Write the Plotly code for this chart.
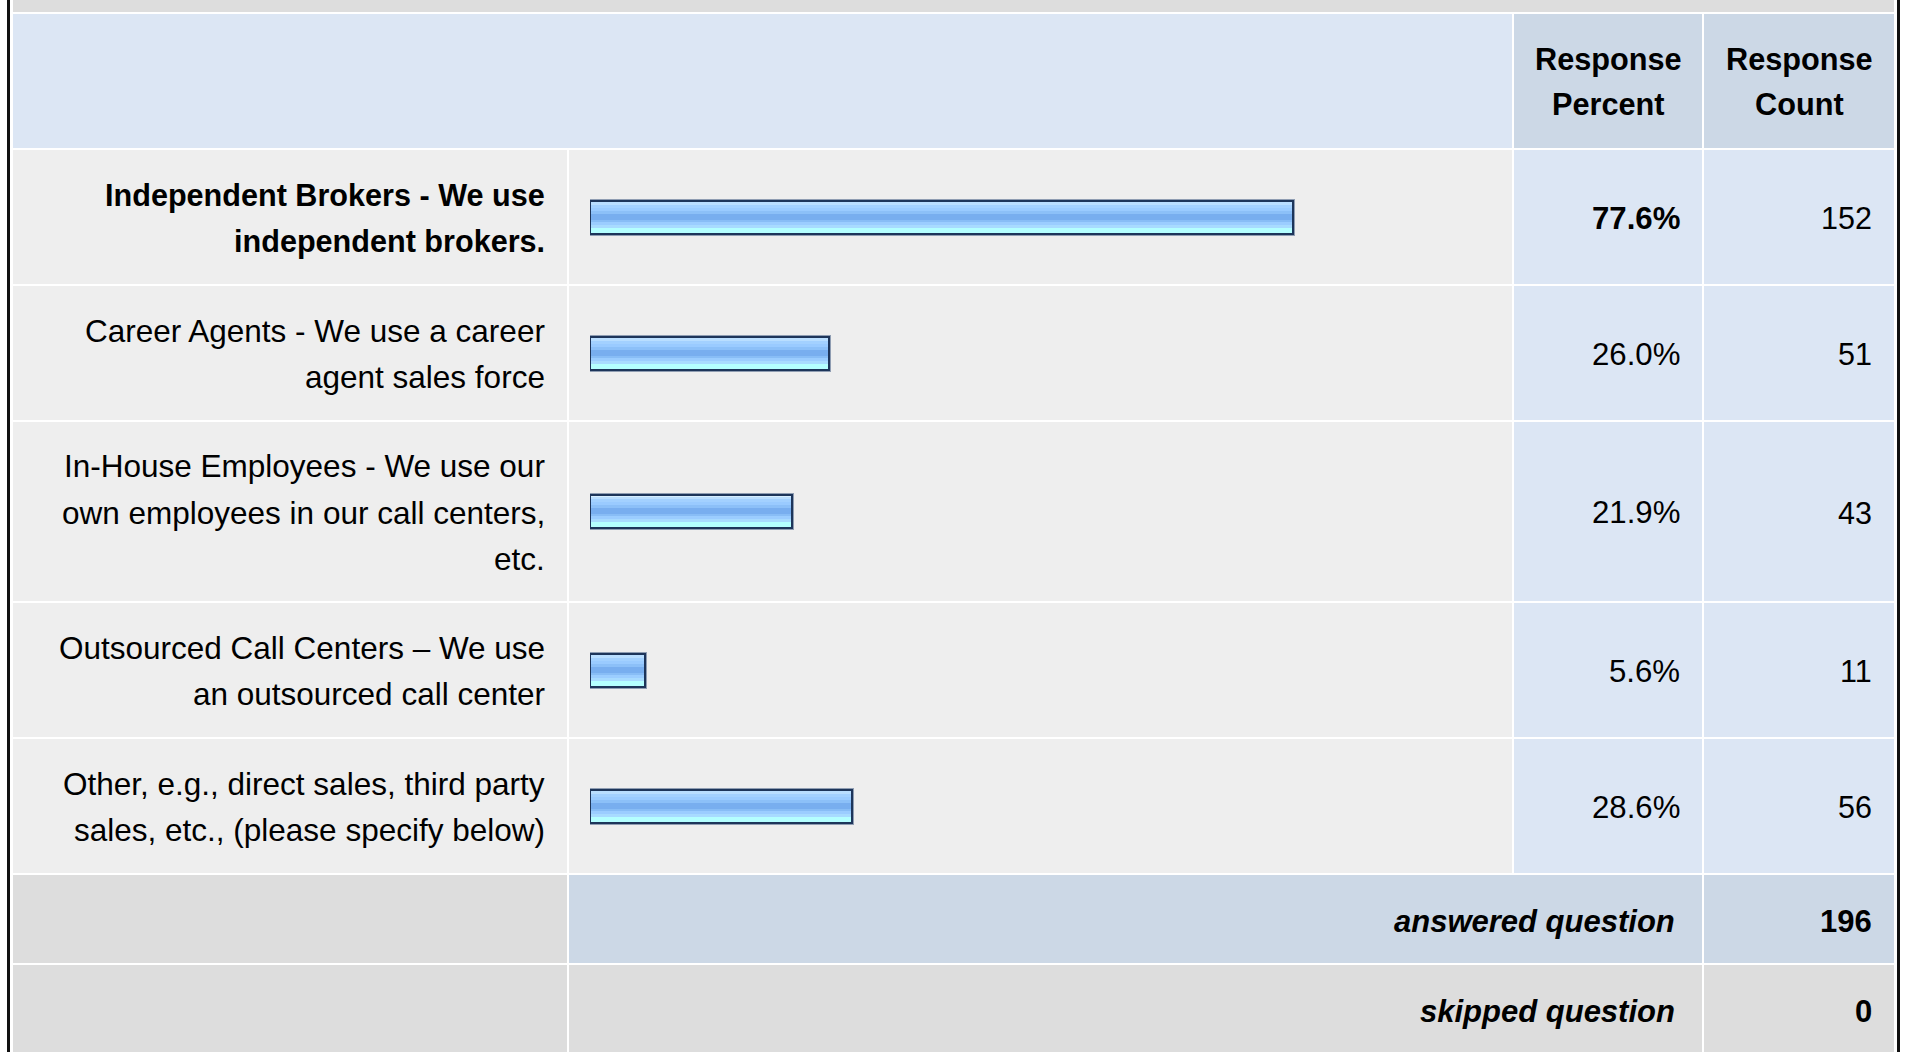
import plotly.graph_objects as go

W, H = 1907, 1052

# ---------------- data ----------------
categories = [
    "Independent Brokers - We use<br>independent brokers.",
    "Career Agents - We use a career<br>agent sales force",
    "In-House Employees - We use our<br>own employees in our call centers,<br>etc.",
    "Outsourced Call Centers – We use<br>an outsourced call center",
    "Other, e.g., direct sales, third party<br>sales, etc., (please specify below)",
]
response_percent = [77.6, 26.0, 21.9, 5.6, 28.6]
response_count = [152, 51, 43, 11, 56]
header_labels = ["Response<br>Percent", "Response<br>Count"]
summary_labels = ["answered question", "skipped question"]
summary_values = [196, 0]

# ---------------- style / layout ----------------
FONT = "Liberation Sans, Arial, Helvetica, sans-serif"
FS_LABEL = 31.5
FS_LABEL_BOLD = 30.6
FS_HEAD = 30.7
FS_PCT = 31.2
FS_CNT = 30.5
FS_SUM = 31
LINE = 46
HEAD_BG = "#DCE6F4"
HEAD_DARK = "#CCD8E6"
ROW_BG = "#EEEEEE"
ROW_VAL = "#DCE6F4"
GRAY = "#DDDDDD"

XL0, XL1 = 13, 567
XB0, XB1 = 569, 1512
XP0, XP1 = 1514, 1702
XC0, XC1 = 1704, 1894
GAP = 2

shapes, annotations = [], []


def rect(x0, x1, y0, y1, color):
    shapes.append(dict(type="rect", xref="paper", yref="paper",
                       x0=x0 / W, x1=x1 / W, y0=1 - y1 / H, y1=1 - y0 / H,
                       fillcolor=color, line_width=0, layer="below"))


def text(x, y, s, anchor, size, bold=False, italic=False):
    if bold:
        s = "<b>" + s + "</b>"
    if italic:
        s = "<i>" + s + "</i>"
    annotations.append(dict(xref="paper", yref="paper", x=x / W, y=1 - y / H,
                            text=s, showarrow=False, xanchor=anchor, yanchor="middle",
                            borderpad=0,
                            font=dict(family=FONT, size=size, color="#000000")))


def multiline(x, yc, s, anchor, size, bold=False):
    lines = s.split("<br>")
    n = len(lines)
    for i, ln in enumerate(lines):
        text(x, yc + (i - (n - 1) / 2) * LINE + 1, ln, anchor, size, bold=bold)


def row_h(n):
    return 44 + 45 * n


# top strip
rect(XL0, XC1, 0, 12, GRAY)

# header
y = 14
hh = row_h(2)
rect(XL0, XB1, y, y + hh, HEAD_BG)
rect(XP0, XP1, y, y + hh, HEAD_DARK)
rect(XC0, XC1, y, y + hh, HEAD_DARK)
hc = y + hh / 2
multiline((XP0 + XP1) / 2, hc, header_labels[0], "center", FS_HEAD, bold=True)
multiline((XC0 + XC1) / 2, hc, header_labels[1], "center", FS_HEAD, bold=True)
y += hh + GAP

# data rows
top_idx = max(range(len(response_percent)), key=lambda i: response_percent[i])
centers = []
for i, lab in enumerate(categories):
    n = len(lab.split("<br>"))
    h = row_h(n)
    rect(XL0, XL1, y, y + h, ROW_BG)
    rect(XB0, XB1, y, y + h, ROW_BG)
    rect(XP0, XP1, y, y + h, ROW_VAL)
    rect(XC0, XC1, y, y + h, ROW_VAL)
    c = y + h / 2
    centers.append(c)
    bold = i == top_idx
    multiline(XL1 - 21, c, lab, "right", FS_LABEL_BOLD if bold else FS_LABEL, bold=bold)
    text(XP1 - 21, c + 1, f"{response_percent[i]:.1f}%", "right", FS_PCT, bold=bold)
    text(XC1 - 21, c + 1, str(response_count[i]), "right", FS_CNT)
    y += h + GAP

# summary rows
for j, (lab, val) in enumerate(zip(summary_labels, summary_values)):
    h = row_h(1) - 1
    mid_col = HEAD_DARK if j == 0 else GRAY
    rect(XL0, XL1, y, y + h, GRAY)
    rect(XB0, XP1, y, y + h, mid_col)
    rect(XC0, XC1, y, y + h, mid_col)
    c = y + h / 2
    text(XP1 - 26, c + 2, lab, "right", FS_SUM, bold=True, italic=True)
    text(XC1 - 21, c + 2, str(val), "right", FS_SUM, bold=True)
    y += h + GAP

# outer borders
shapes.append(dict(type="rect", xref="paper", yref="paper", x0=7 / W, x1=10 / W,
                   y0=0, y1=1, fillcolor="#111111", line_width=0, layer="above"))
shapes.append(dict(type="rect", xref="paper", yref="paper", x0=1897 / W, x1=1900 / W,
                   y0=0, y1=1, fillcolor="#111111", line_width=0, layer="above"))

# ---------------- bars ----------------
BAR_T = 33
BASE = -0.5          # bar image starts slightly before the zero point
PX_PER_PCT = 9.0
X_START = 590
bar_len = [p - BASE for p in response_percent]   # bar spans BASE .. p
stripes = [
    (0.0, 1.5, "#D6EEFF"),
    (1.5, 2.5, "#B9DEFF"),
    (4.0, 3.0, "#A3D1FF"),
    (7.0, 3.0, "#9ACBFF"),
    (10.0, 3.0, "#8CC0F8"),
    (13.0, 6.0, "#78AEEF"),
    (19.0, 2.0, "#88BDF6"),
    (21.0, 3.0, "#9BCDFF"),
    (24.0, 3.0, "#A8DBFF"),
    (27.0, 6.0, "#B4FFFF"),
]

traces = []
traces.append(go.Bar(x=bar_len, y=centers, orientation="h", base=BASE,
                     width=BAR_T, offset=-BAR_T / 2, cliponaxis=False,
                     marker=dict(color="rgba(0,0,0,0)", line=dict(color="#8F9DB2", width=4)),
                     hoverinfo="skip", showlegend=False))
for off, th, col in stripes:
    traces.append(go.Bar(x=bar_len, y=centers, orientation="h", base=BASE,
                         width=th, offset=-BAR_T / 2 + off, cliponaxis=False,
                         marker=dict(color=col, line=dict(width=0)),
                         hoverinfo="skip", showlegend=False))
traces.append(go.Bar(x=bar_len, y=centers, orientation="h", base=BASE,
                     width=BAR_T, offset=-BAR_T / 2, cliponaxis=False,
                     marker=dict(color="rgba(0,0,0,0)", line=dict(color="#1D355A", width=2)),
                     hoverinfo="skip", showlegend=False))

x_end = X_START + (100 - BASE) * PX_PER_PCT
fig = go.Figure(traces)
fig.update_layout(
    width=W, height=H, margin=dict(l=0, r=0, t=0, b=0),
    paper_bgcolor="#FFFFFF", plot_bgcolor="rgba(0,0,0,0)",
    barmode="overlay", bargap=0,
    shapes=shapes, annotations=annotations,
    xaxis=dict(domain=[X_START / W, x_end / W], range=[BASE, 100], visible=False, fixedrange=True),
    yaxis=dict(domain=[0, 1], range=[H, 0], visible=False, fixedrange=True),
    showlegend=False,
)
fig.write_html("out.html", config={"displayModeBar": False},
               post_script="document.body.style.margin='0';document.body.style.overflow='hidden';")
